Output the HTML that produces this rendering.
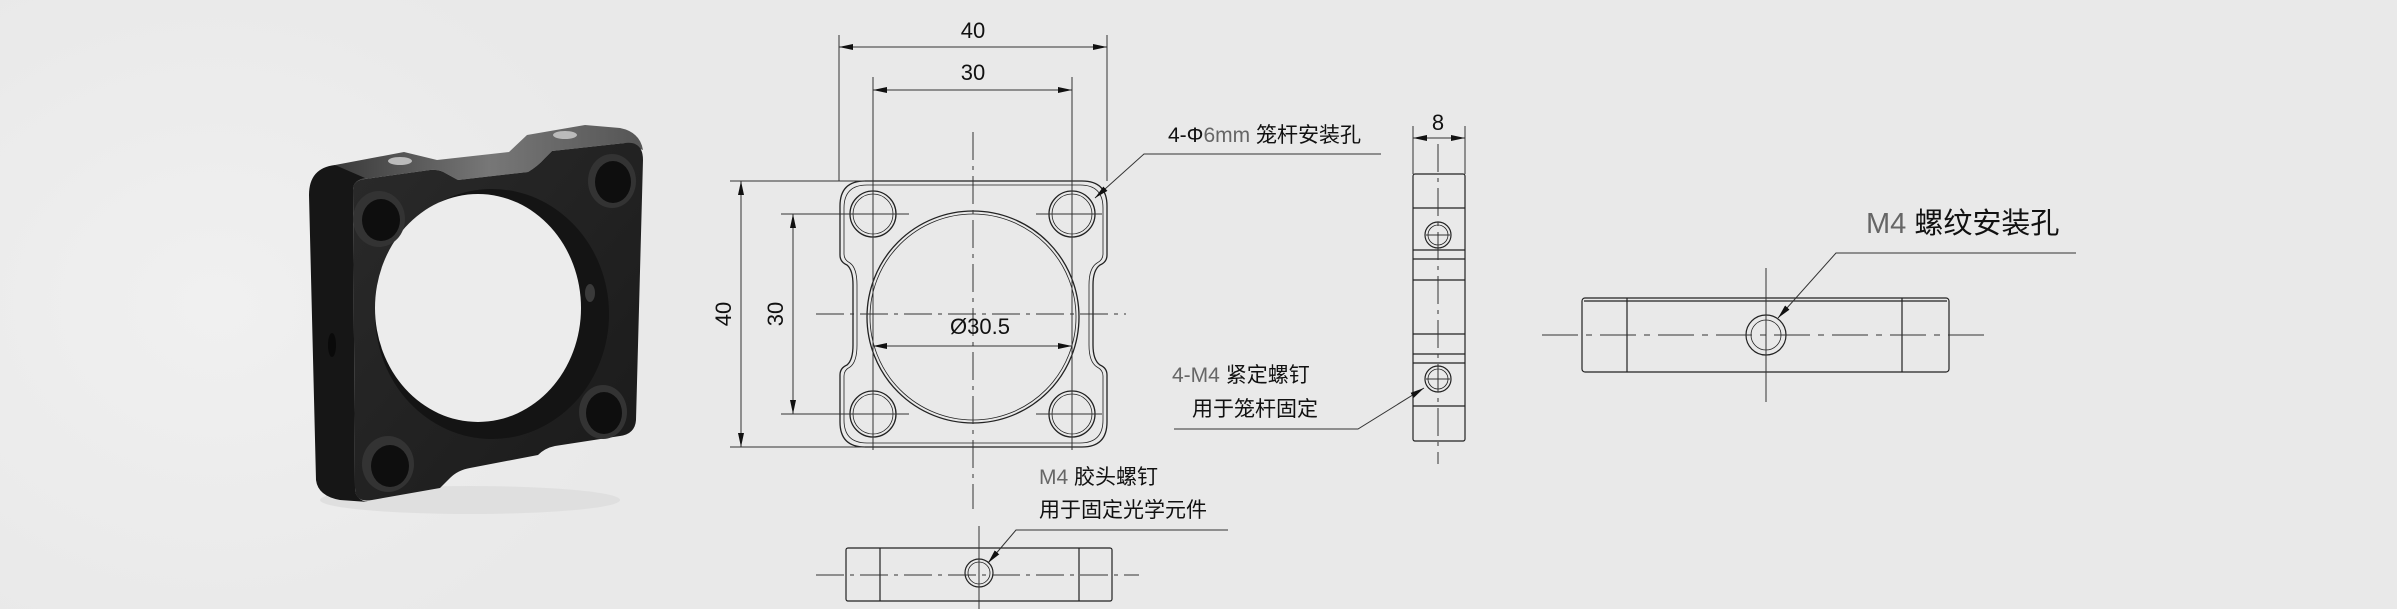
<!DOCTYPE html>
<html><head><meta charset="utf-8"><style>
html,body{margin:0;padding:0;background:#e9e9e9;}
svg{display:block}
text{font-family:"Liberation Sans","Noto Sans CJK SC",sans-serif;}
</style></head><body>
<svg width="2397" height="609" viewBox="0 0 2397 609" xmlns="http://www.w3.org/2000/svg">
<defs>
<radialGradient id="bg" cx="0.3" cy="0.5" r="0.6"><stop offset="0" stop-color="#f0f0f0"/><stop offset="1" stop-color="#e9e9e9"/></radialGradient>
<linearGradient id="face" x1="0" y1="0" x2="1" y2="1"><stop offset="0" stop-color="#2a2a2a"/><stop offset="1" stop-color="#1a1a1a"/></linearGradient>
<linearGradient id="top" x1="0" y1="0" x2="1" y2="0"><stop offset="0" stop-color="#3a3a3a"/><stop offset="0.5" stop-color="#777"/><stop offset="1" stop-color="#555"/></linearGradient>
<marker id="a" viewBox="0 0 14 6" refX="14" refY="3" markerWidth="14" markerHeight="6" orient="auto-start-reverse" markerUnits="userSpaceOnUse"><path d="M0,0 L14,3 L0,6 z" fill="#111"/></marker>
</defs>
<rect width="2397" height="609" fill="#e9e9e9"/>
<rect width="720" height="609" fill="url(#bg)"/>
<ellipse cx="470" cy="500" rx="150" ry="14" fill="#dadada" opacity="0.7"/>
<!-- photo part -->
<g>
<path d="M335,165 L404,152 L437,160 L509,152 L527,135 L585,125 L620,128 Q640,132 643,150 L625,143 L552,151 L545,158 Q538,166 528,172 L458,180 L447,174 Q440,169 430,170 L365,179 Q353,180 353,190 Q345,170 335,165 Z" fill="url(#top)"/>
<path d="M309,195 Q309,168 335,165 L365,178 Q353,180 353,190 L355,488 Q355,500 368,502 L340,500 Q318,496 316,480 Z" fill="#161616"/>
<path d="M353,190 Q353,180 365,179 L430,170 Q440,169 447,174 L458,180 L528,172 Q538,166 545,158 L552,151 L625,143 Q643,141 643,160 L636,420 Q635,434 620,436 L555,446 Q545,448 538,455 L470,468 Q458,470 450,478 L440,488 L372,500 Q355,503 355,488 Z" fill="url(#face)"/>
<ellipse cx="492" cy="314" rx="117" ry="125" fill="#141414"/>
<ellipse cx="478" cy="308" rx="103" ry="114" fill="#ececec"/>
<ellipse cx="379" cy="219" rx="26" ry="28" fill="#333"/><ellipse cx="381" cy="220" rx="19" ry="21" fill="#0e0e0e"/>
<ellipse cx="612" cy="181" rx="24" ry="27" fill="#333"/><ellipse cx="613" cy="182" rx="18" ry="21" fill="#0e0e0e"/>
<ellipse cx="603" cy="412" rx="24" ry="27" fill="#333"/><ellipse cx="604" cy="413" rx="18" ry="21" fill="#0e0e0e"/>
<ellipse cx="388" cy="464" rx="26" ry="28" fill="#333"/><ellipse cx="390" cy="466" rx="19" ry="21" fill="#0e0e0e"/>
<ellipse cx="400" cy="161" rx="12" ry="4" fill="#bbb"/><ellipse cx="565" cy="135" rx="12" ry="4" fill="#bbb"/>
<ellipse cx="332" cy="345" rx="4" ry="12" fill="#0a0a0a"/>
<ellipse cx="590" cy="293" rx="5" ry="9" fill="#3a3a3a"/>
</g>

<g stroke="#222" fill="none" stroke-width="1.3">
<path d="M865,181 L1082,181 Q1107,181 1107,206 L1107,255 Q1107,262 1100,265 Q1093,270 1093,285 L1093,345 Q1093,360 1100,365 Q1107,368 1107,375 L1107,422 Q1107,447 1082,447 L865,447 Q840,447 840,422 L840,375 Q840,368 847,365 Q853,360 853,345 L853,285 Q853,270 847,265 Q840,262 840,255 L840,206 Q840,181 865,181 Z"/>
<path d="M867,185 L1080,185 Q1103,185 1103,208 L1103,254 Q1103,260 1097,263 Q1089,268 1089,285 L1089,345 Q1089,362 1097,367 Q1103,370 1103,376 L1103,420 Q1103,443 1080,443 L867,443 Q844,443 844,420 L844,376 Q844,370 850,367 Q857,362 857,345 L857,285 Q857,268 850,263 Q844,260 844,254 L844,208 Q844,185 867,185 Z" stroke-width="0.8"/>
<circle cx="973" cy="317" r="106"/><circle cx="973" cy="317" r="103" stroke-width="0.8"/>
<circle cx="873" cy="214" r="23"/><circle cx="873" cy="214" r="20" stroke-width="0.8"/>
<circle cx="1072" cy="214" r="23"/><circle cx="1072" cy="214" r="20" stroke-width="0.8"/>
<circle cx="873" cy="414" r="23"/><circle cx="873" cy="414" r="20" stroke-width="0.8"/>
<circle cx="1072" cy="414" r="23"/><circle cx="1072" cy="414" r="20" stroke-width="0.8"/>
</g>
<g stroke="#333" stroke-width="1" fill="none">
<path d="M973,132 L973,509" stroke-dasharray="28,6,4,6"/>
<path d="M816,314 L1126,314" stroke-dasharray="28,6,4,6"/>
<path d="M873,180 L873,450 M1072,180 L1072,450"/>
<path d="M843,214 L909,214 M1036,214 L1102,214 M843,414 L909,414 M1036,414 L1102,414"/>
<path d="M839,35 L839,181 M1107,35 L1107,181 M873,77 L873,214 M1072,77 L1072,214"/>
<path d="M730,181 L865,181 M730,447 L865,447 M781,214 L873,214 M781,414 L873,414"/>
<path d="M839,47 L1107,47" marker-start="url(#a)" marker-end="url(#a)"/>
<path d="M873,90 L1072,90" marker-start="url(#a)" marker-end="url(#a)"/>
<path d="M741,181 L741,447" marker-start="url(#a)" marker-end="url(#a)"/>
<path d="M793,214 L793,414" marker-start="url(#a)" marker-end="url(#a)"/>
<path d="M873,346 L1072,346" marker-start="url(#a)" marker-end="url(#a)"/>
<path d="M1381,154 L1144,154 L1095,198" marker-end="url(#a)"/>
</g>
<g fill="#111" font-size="22" text-anchor="middle">
<text x="973" y="38">40</text>
<text x="973" y="80">30</text>
<text x="980" y="334">Ø30.5</text>
<text transform="translate(731,314) rotate(-90)">40</text>
<text transform="translate(783,314) rotate(-90)">30</text>
<text x="1438" y="130">8</text>
</g>
<text x="1168" y="142" font-size="21" fill="#111">4-Φ<tspan fill="#666">6mm</tspan> 笼杆安装孔</text>

<g stroke="#222" fill="none" stroke-width="1.2">
<rect x="1413" y="174" width="52" height="267" rx="2"/>
<path d="M1413,208 L1465,208 M1413,250 L1465,250 M1413,259 L1465,259 M1413,280 L1465,280 M1413,334 L1465,334 M1413,354 L1465,354 M1413,363 L1465,363 M1413,406 L1465,406"/>
<circle cx="1438" cy="235" r="13"/><circle cx="1438" cy="235" r="10" stroke-width="0.8"/>
<circle cx="1438" cy="379" r="13"/><circle cx="1438" cy="379" r="10" stroke-width="0.8"/>
</g>
<g stroke="#333" stroke-width="1" fill="none">
<path d="M1438,144 L1438,464" stroke-dasharray="28,6,4,6"/>
<path d="M1426,235 L1450,235 M1426,379 L1450,379"/>
<path d="M1413,126 L1413,174 M1465,126 L1465,174"/>
<path d="M1413,138 L1465,138" marker-start="url(#a)" marker-end="url(#a)"/>
<path d="M1174,429 L1358,429 L1424,388" marker-end="url(#a)"/>
</g>
<text x="1172" y="382" font-size="21" fill="#111"><tspan fill="#666">4-M4</tspan> 紧定螺钉</text>
<text x="1192" y="416" font-size="21" fill="#111">用于笼杆固定</text>

<g stroke="#222" fill="none" stroke-width="1.2">
<rect x="846" y="548" width="266" height="53" rx="2"/>
<path d="M880,548 L880,601 M1079,548 L1079,601"/>
<circle cx="979" cy="573" r="14"/><circle cx="979" cy="573" r="11" stroke-width="0.8"/>
</g>
<g stroke="#333" stroke-width="1" fill="none">
<path d="M816,575 L1139,575" stroke-dasharray="28,6,4,6"/>
<path d="M979,526 L979,609"/>
<path d="M1228,530 L1016,530 L988,563" marker-end="url(#a)"/>
</g>
<text x="1039" y="484" font-size="21" fill="#111"><tspan fill="#666">M4</tspan> 胶头螺钉</text>
<text x="1039" y="517" font-size="21" fill="#111">用于固定光学元件</text>

<g stroke="#222" fill="none" stroke-width="1.2">
<rect x="1582" y="298" width="367" height="74" rx="3"/>
<path d="M1584,301 L1947,301 M1627,298 L1627,372 M1902,298 L1902,372"/>
<circle cx="1766" cy="335" r="20"/><circle cx="1766" cy="335" r="15" stroke-width="0.8"/>
</g>
<g stroke="#333" stroke-width="1" fill="none">
<path d="M1542,335 L1985,335" stroke-dasharray="36,8,6,8"/>
<path d="M1766,268 L1766,402"/>
<path d="M2076,253 L1836,253 L1778,318" marker-end="url(#a)"/>
</g>
<text x="1866" y="233" font-size="29" fill="#111"><tspan fill="#666">M4</tspan> 螺纹安装孔</text>
</svg>
</body></html>
